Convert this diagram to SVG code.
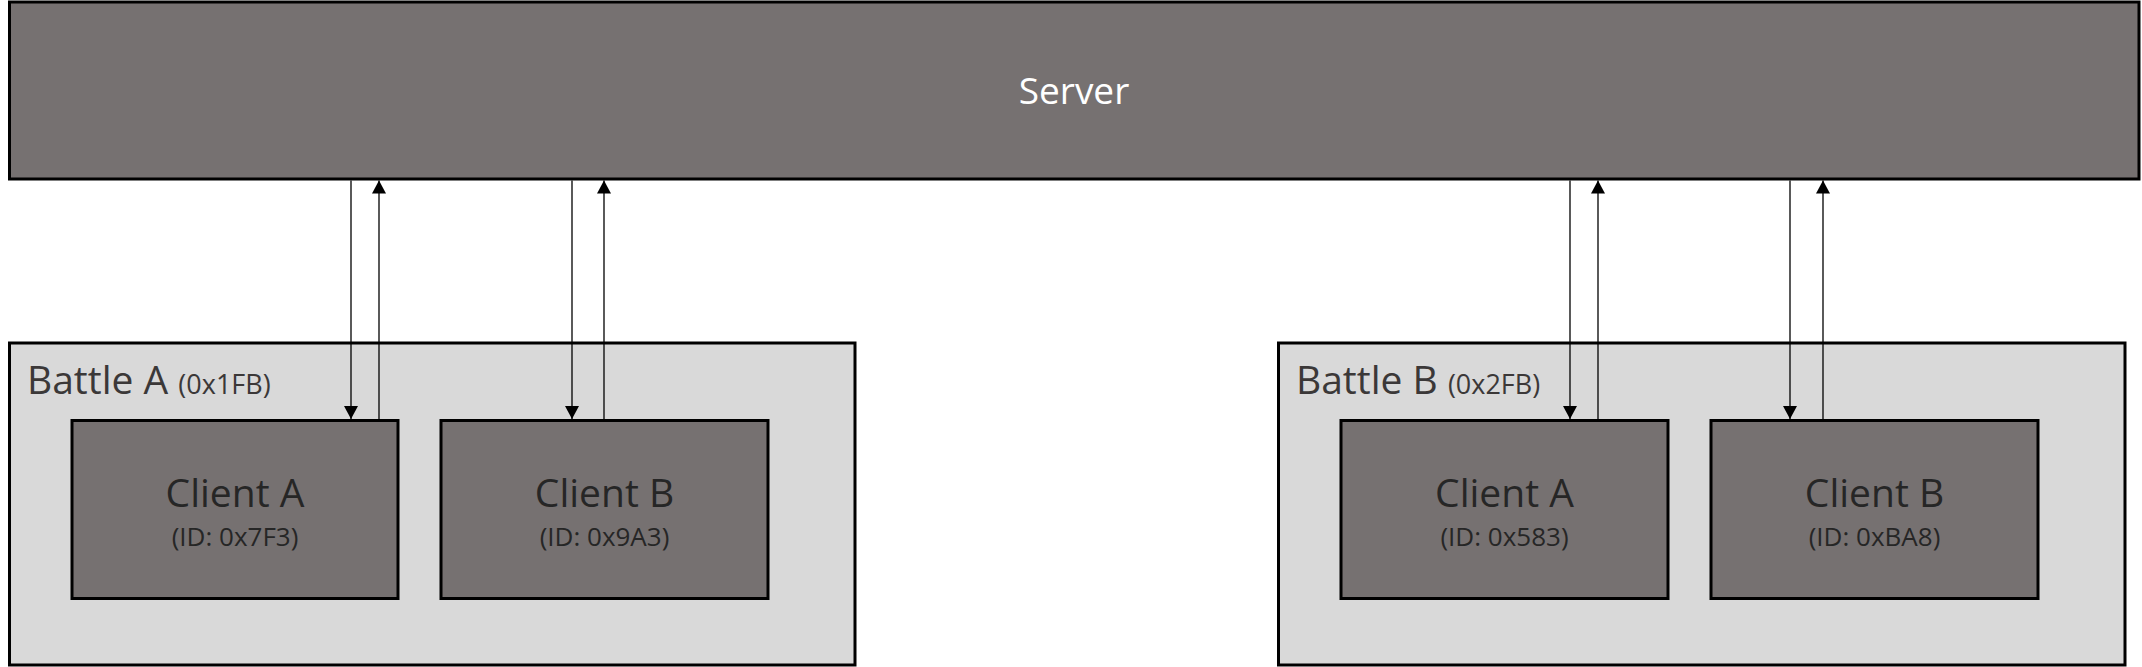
<svg xmlns="http://www.w3.org/2000/svg" width="2142" height="667" viewBox="0 0 2142 667">
<style>
.box{fill:#767171;stroke:#000;stroke-width:3}
.battle{fill:#d9d9d9;stroke:#000;stroke-width:3}
.t{font-family:"Open Sans","Noto Sans","Liberation Sans",sans-serif}
.srv{font-size:37px;fill:#ffffff;text-anchor:middle}
.cl{font-size:39px;fill:#262626;text-anchor:middle}
.id{font-size:26px;fill:#262626;text-anchor:middle}
.bt{font-size:39px;fill:#3b3838}
.bs{font-size:27px}
.ln{stroke:#000;stroke-width:1.3;fill:none;marker-end:url(#ah)}
</style>
<defs>
<marker id="ah" markerUnits="userSpaceOnUse" markerWidth="14" markerHeight="14" viewBox="0 0 14 14" refX="13" refY="7" orient="auto">
<path d="M0,0 L13,7 L0,14 Z" fill="#000"/>
</marker>
</defs>
<rect width="2142" height="667" fill="#fff"/>
<g id="server">
<rect class="box" x="9.5" y="2" width="2129.5" height="177"/>
<text class="t srv" x="1074" y="104">Server</text>
</g>
<g id="battleA">
<rect class="battle" x="9.5" y="343" width="845.5" height="322"/>
<text class="t bt" x="27" y="394">Battle A <tspan class="bs">(0x1FB)</tspan></text>
</g>
<g id="battleB">
<rect class="battle" x="1278.5" y="343" width="846.5" height="322"/>
<text class="t bt" x="1296" y="394">Battle B <tspan class="bs">(0x2FB)</tspan></text>
</g>
<g id="clientA1">
<rect class="box" x="72" y="420.5" width="326" height="178"/>
<text class="t cl" x="235" y="507">Client A</text>
<text class="t id" x="235" y="546">(ID: 0x7F3)</text>
</g>
<g id="clientB1">
<rect class="box" x="441" y="420.5" width="327" height="178"/>
<text class="t cl" x="604.5" y="507">Client B</text>
<text class="t id" x="604.5" y="546">(ID: 0x9A3)</text>
</g>
<g id="clientA2">
<rect class="box" x="1341" y="420.5" width="327" height="178"/>
<text class="t cl" x="1504.5" y="507">Client A</text>
<text class="t id" x="1504.5" y="546">(ID: 0x583)</text>
</g>
<g id="clientB2">
<rect class="box" x="1711" y="420.5" width="327" height="178"/>
<text class="t cl" x="1874.5" y="507">Client B</text>
<text class="t id" x="1874.5" y="546">(ID: 0xBA8)</text>
</g>
<g id="connectors">
<line class="ln" x1="351" y1="180.5" x2="351" y2="419"/>
<line class="ln" x1="379" y1="419" x2="379" y2="180.5"/>
<line class="ln" x1="572" y1="180.5" x2="572" y2="419"/>
<line class="ln" x1="604" y1="419" x2="604" y2="180.5"/>
<line class="ln" x1="1570" y1="180.5" x2="1570" y2="419"/>
<line class="ln" x1="1598" y1="419" x2="1598" y2="180.5"/>
<line class="ln" x1="1790" y1="180.5" x2="1790" y2="419"/>
<line class="ln" x1="1823" y1="419" x2="1823" y2="180.5"/>
</g>
</svg>
